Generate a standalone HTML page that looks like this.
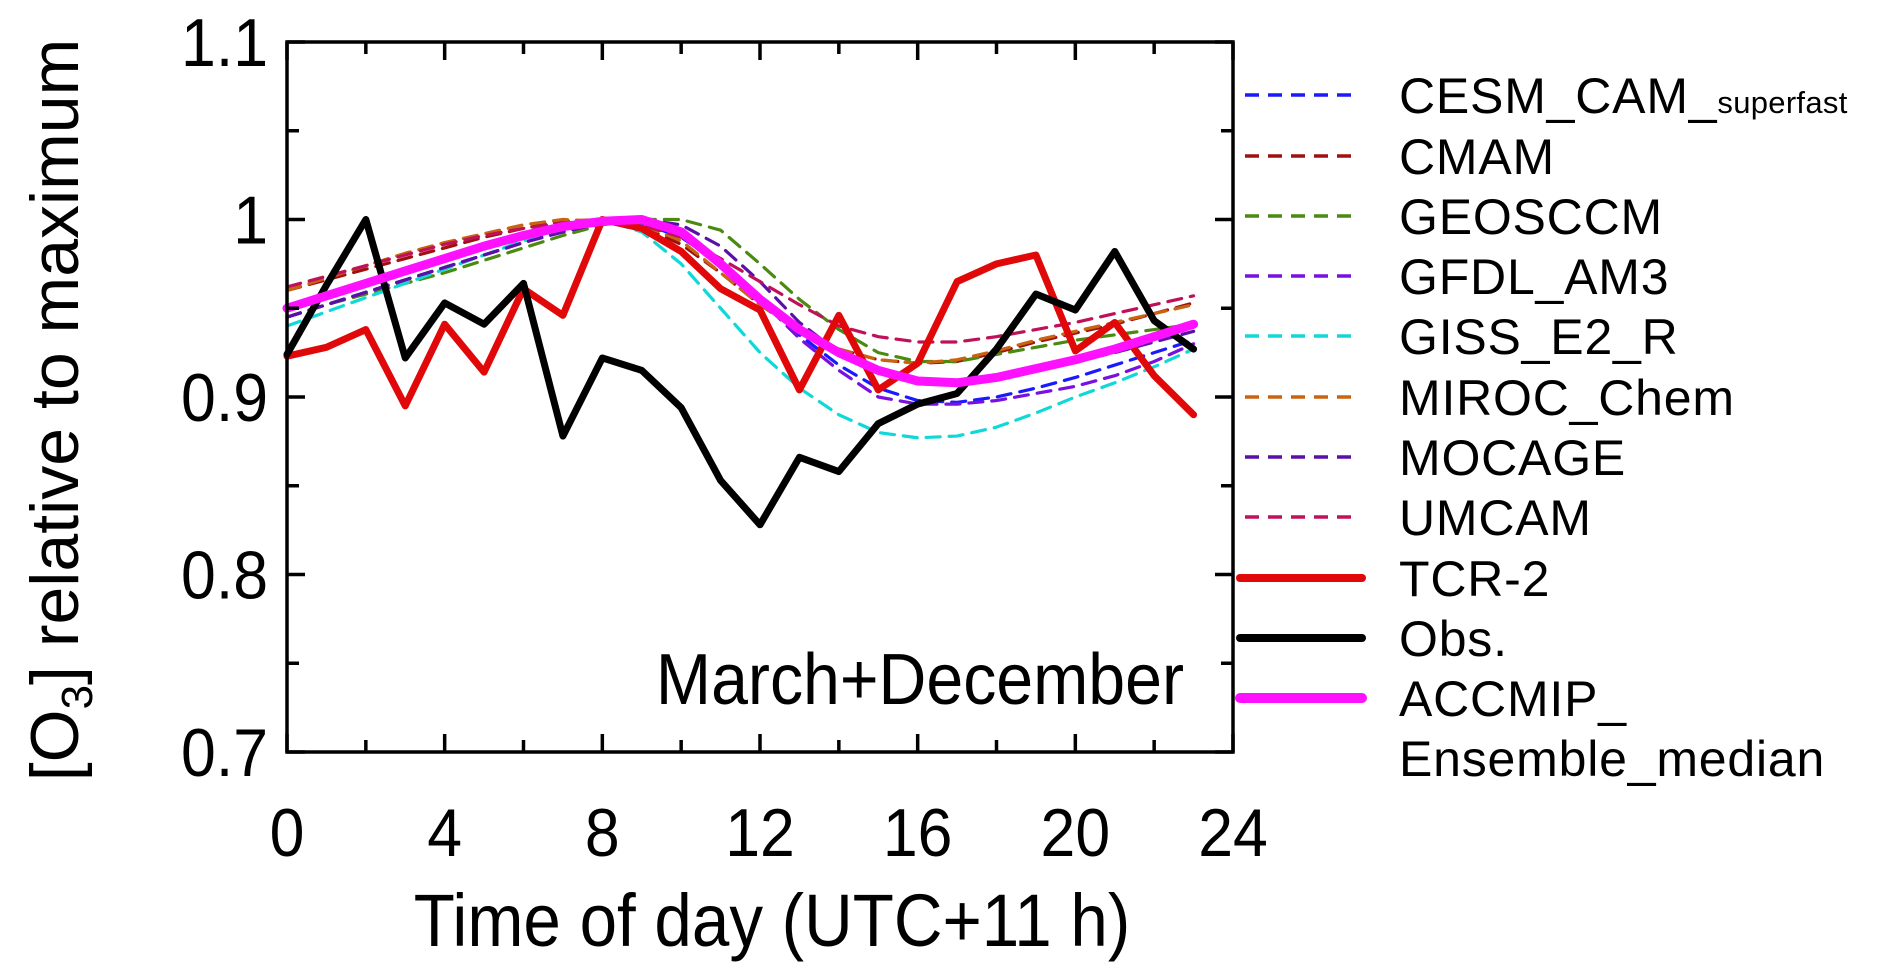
<!DOCTYPE html>
<html><head><meta charset="utf-8"><style>
html,body{margin:0;padding:0;background:#fff;}
svg{display:block;font-family:"Liberation Sans",sans-serif;}
</style></head><body>
<svg id="chart" width="1882" height="973" viewBox="0 0 1882 973">
<g id="plot"></g>
<g id="axes"></g>
<g id="legend"></g>
</svg>
<script>
const hours = [0,1,2,3,4,5,6,7,8,9,10,11,12,13,14,15,16,17,18,19,20,21,22,23];
const yTicks = [0.7,0.8,0.9,1,1.1];
const yTickLabels = ["0.7","0.8","0.9","1","1.1"];
const xTicks = [0,4,8,12,16,20,24];
const cesm   = [0.945,0.952,0.959,0.966,0.973,0.980,0.987,0.994,1.000,0.998,0.990,0.975,0.955,0.935,0.918,0.905,0.898,0.897,0.900,0.905,0.911,0.918,0.925,0.932];
const cmam   = [0.960,0.966,0.972,0.978,0.984,0.990,0.995,0.999,1.000,0.996,0.986,0.970,0.952,0.937,0.927,0.921,0.919,0.920,0.925,0.931,0.936,0.941,0.947,0.953];
const geos   = [0.945,0.952,0.958,0.964,0.970,0.977,0.984,0.991,0.997,1.000,1.000,0.994,0.975,0.955,0.938,0.925,0.920,0.920,0.924,0.928,0.932,0.935,0.938,0.941];
const gfdl   = [0.945,0.952,0.959,0.966,0.973,0.980,0.987,0.993,0.998,1.000,0.993,0.975,0.955,0.933,0.915,0.900,0.896,0.896,0.898,0.902,0.906,0.912,0.920,0.930];
const giss   = [0.940,0.948,0.956,0.964,0.972,0.980,0.988,0.995,1.000,0.993,0.975,0.950,0.925,0.905,0.890,0.880,0.877,0.878,0.883,0.891,0.900,0.908,0.917,0.927];
const miroc  = [0.960,0.967,0.974,0.981,0.987,0.992,0.997,1.000,0.999,0.997,0.988,0.970,0.952,0.937,0.927,0.921,0.919,0.921,0.926,0.932,0.937,0.942,0.947,0.952];
const mocage = [0.945,0.952,0.959,0.966,0.973,0.980,0.987,0.993,0.998,1.000,0.997,0.985,0.965,0.942,0.925,0.915,0.910,0.909,0.911,0.915,0.920,0.925,0.931,0.937];
const umcam  = [0.962,0.968,0.974,0.980,0.986,0.991,0.995,0.998,1.000,0.997,0.990,0.978,0.965,0.952,0.940,0.934,0.931,0.931,0.934,0.938,0.942,0.947,0.952,0.957];
const tcr2   = [0.923,0.928,0.938,0.895,0.941,0.914,0.961,0.946,1.000,0.995,0.982,0.961,0.949,0.904,0.946,0.904,0.919,0.965,0.975,0.980,0.926,0.942,0.912,0.890];
const obs    = [0.924,0.963,1.000,0.922,0.953,0.941,0.964,0.878,0.922,0.915,0.894,0.853,0.828,0.866,0.858,0.885,0.896,0.902,0.927,0.958,0.949,0.982,0.943,0.927];
const median = [0.950,0.957,0.964,0.971,0.978,0.985,0.991,0.996,0.999,1.000,0.993,0.975,0.955,0.938,0.925,0.915,0.909,0.908,0.911,0.916,0.921,0.927,0.934,0.941];

const NS="http://www.w3.org/2000/svg";
const L=287,R=1233,T=42,B=752;
const xs=v=>L+(v-0)/(24-0)*(R-L);
const ys=v=>B-(v-0.7)/(1.1-0.7)*(B-T);
function mk(tag,attrs,parent){const e=document.createElementNS(NS,tag);for(const k in attrs)e.setAttribute(k,attrs[k]);parent.appendChild(e);return e;}
const plot=document.getElementById('plot'),axes=document.getElementById('axes'),legend=document.getElementById('legend');

const series=[
 {n:"CESM_CAM_",sub:"superfast",d:cesm,c:"#1a1aff",w:3.2,dash:true,id:"cesm"},
 {n:"CMAM",d:cmam,c:"#a01010",w:3.2,dash:true,id:"cmam"},
 {n:"GEOSCCM",d:geos,c:"#4a8a10",w:3.2,dash:true,id:"geosccm"},
 {n:"GFDL_AM3",d:gfdl,c:"#7a10e0",w:3.2,dash:true,id:"gfdl"},
 {n:"GISS_E2_R",d:giss,c:"#10d8d8",w:3.2,dash:true,id:"giss"},
 {n:"MIROC_Chem",d:miroc,c:"#c86410",w:3.2,dash:true,id:"miroc"},
 {n:"MOCAGE",d:mocage,c:"#5a10a8",w:3.2,dash:true,id:"mocage"},
 {n:"UMCAM",d:umcam,c:"#c0105a",w:3.2,dash:true,id:"umcam"},
 {n:"TCR-2",d:tcr2,c:"#e00808",w:7,dash:false,id:"tcr2"},
 {n:"Obs.",d:obs,c:"#000",w:7,dash:false,id:"obs"},
 {n:"ACCMIP_",n2:"Ensemble_median",d:median,c:"#ff10ff",w:9,dash:false,id:"median"}
];
series.forEach(s=>{
  const p=mk('polyline',{points:s.d.map((v,i)=>xs(hours[i])+','+ys(v)).join(' '),fill:'none',stroke:s.c,'stroke-width':s.w,'stroke-linejoin':'round','stroke-linecap':'round','stroke-dasharray':s.dash?'14 9':'none'},plot);
  
  
});

const fr=mk('rect',{x:L,y:T,width:R-L,height:B-T,fill:'none',stroke:'#000','stroke-width':3.5},axes);


for(let v=0.7;v<=1.1001;v+=0.05){
  const y=ys(v);const len=Math.abs((v*10)-Math.round(v*10))<0.01?18:12;
  const t1=mk('line',{x1:L,x2:L+len,y1:y,y2:y,stroke:'#000','stroke-width':3.5},axes);
  
  
  const t2=mk('line',{x1:R,x2:R-len,y1:y,y2:y,stroke:'#000','stroke-width':3.5},axes);
  
  
}
for(let h=0;h<=24;h+=2){
  const x=xs(h);const len=h%4===0?18:12;
  const t1=mk('line',{x1:x,x2:x,y1:B,y2:B-len,stroke:'#000','stroke-width':3.5},axes);
  
  
  const t2=mk('line',{x1:x,x2:x,y1:T,y2:T+len,stroke:'#000','stroke-width':3.5},axes);
  
  
}
yTicks.forEach((v,i)=>{
  const t=mk('text',{x:0,y:0,'text-anchor':'end','font-size':68,fill:'#000',transform:'translate(268,'+(ys(v)+24)+') scale(0.92,1)'},axes);
  t.textContent=yTickLabels[i];
  
  
});
xTicks.forEach(h=>{
  const t=mk('text',{x:0,y:0,'text-anchor':'middle','font-size':68,fill:'#000',transform:'translate('+xs(h)+',856) scale(0.92,1)'},axes);
  t.textContent=String(h);
  
  
});
const xt=mk('text',{x:0,y:0,'text-anchor':'middle','font-size':74,fill:'#000',transform:'translate(772,946) scale(0.91,1)'},axes);
xt.textContent='Time of day (UTC+11 h)';


const yt=mk('text',{x:0,y:0,'text-anchor':'middle','font-size':68,fill:'#000',transform:'translate(78,410) rotate(-90)'},axes);
yt.innerHTML='[O<tspan font-size="44" dy="14">3</tspan><tspan dy="-14">] relative to maximum</tspan>';


const an=mk('text',{x:0,y:0,'text-anchor':'end','font-size':72,fill:'#000',transform:'translate(1184,704) scale(0.92,1)'},axes);
an.textContent='March+December';



const rowY=[95,156,216,276,336,397,457,517,578,638,698];
series.forEach((s,i)=>{
  const y=rowY[i];
  const g=mk('g',{},legend);
  
  
  mk('line',{x1:s.dash?1245:1240,x2:s.dash?1360:1362,y1:y,y2:y,stroke:s.c,'stroke-width':s.dash?3.5:(s.w+1),'stroke-dasharray':s.dash?'14 9':'none','stroke-linecap':s.dash?'butt':'round'},g);
  const t=mk('text',{x:1399,y:y+18,'font-size':50,fill:'#000','letter-spacing':'0.8'},g);
  if(s.sub){t.innerHTML=s.n+'<tspan font-size="31" letter-spacing="0.3">'+s.sub+'</tspan>';}
  else t.textContent=s.n;
  if(s.n2){const t2=mk('text',{x:1399,y:y+78,'font-size':50,fill:'#000','letter-spacing':'0.8'},g);t2.textContent=s.n2;}
});
</script>
</body></html>
